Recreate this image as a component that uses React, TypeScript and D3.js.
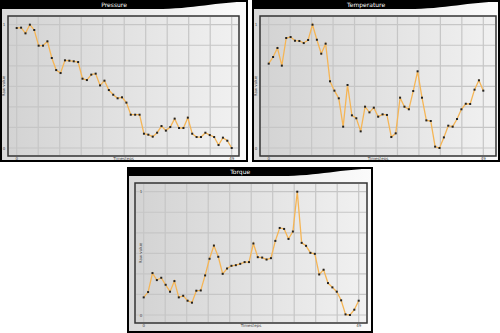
import React from 'react';
import * as d3 from 'd3';

// normalised sensor readings, 50 timesteps each
const pressure = [
  0.973, 0.976, 0.93, 1.0, 0.957, 0.83, 0.83, 0.865, 0.73, 0.632,
  0.608, 0.711, 0.708, 0.703, 0.697, 0.562, 0.551, 0.595, 0.603, 0.508,
  0.546, 0.47, 0.432, 0.403, 0.411, 0.368, 0.27, 0.27, 0.27, 0.116,
  0.108, 0.092, 0.124, 0.178, 0.141, 0.17, 0.238, 0.162, 0.162, 0.246,
  0.116, 0.089, 0.089, 0.124, 0.105, 0.089, 0.024, 0.084, 0.059, 0.0,
];
const temperature = [
  0.684, 0.738, 0.811, 0.668, 0.892, 0.9, 0.87, 0.868, 0.851, 0.876,
  1.0, 0.878, 0.765, 0.846, 0.541, 0.465, 0.403, 0.173, 0.511, 0.265,
  0.241, 0.135, 0.335, 0.289, 0.327, 0.254, 0.273, 0.268, 0.089, 0.119,
  0.408, 0.335, 0.314, 0.462, 0.622, 0.408, 0.224, 0.219, 0.011, 0.0,
  0.086, 0.181, 0.173, 0.235, 0.314, 0.359, 0.357, 0.473, 0.549, 0.465,
];
const torque = [
  0.143, 0.186, 0.34, 0.283, 0.302, 0.245, 0.189, 0.275, 0.143, 0.156,
  0.116, 0.1, 0.197, 0.199, 0.321, 0.456, 0.563, 0.472, 0.334, 0.377,
  0.399, 0.404, 0.415, 0.429, 0.429, 0.58, 0.469, 0.466, 0.45, 0.461,
  0.601, 0.706, 0.698, 0.617, 0.677, 1.0, 0.585, 0.561, 0.504, 0.496,
  0.329, 0.367, 0.259, 0.224, 0.189, 0.119, 0.005, 0.0, 0.043, 0.116,
];
const xTickLabels = ['0', '49'];
const yTickLabels = ['0', '1'];
const xTitle = 'Timesteps';
const yTitle = 'Raw value';

type PanelProps = {
  id: string;
  title: string;
  values: number[];
  x: number;
  y: number;
  w: number;
  h: number;
  innerW: number;
  padR: number;
  labelInside?: boolean;
};

const Panel = ({ id, title, values, x, y, w, h, innerW, padR, labelInside }: PanelProps) => {
  const ix = 8;
  const iy = 16;
  const ih = 140;
  const n = values.length;

  const xScale = d3.scaleLinear().domain([0, n - 1]).range([ix + 8.7, ix + innerW - padR]);
  const yScale = d3.scaleLinear().domain([0, 1]).range([iy + ih - 8, iy + 8.7]);

  const line = d3
    .line<number>()
    .x((_, i) => xScale(i))
    .y(d => yScale(d));

  const vGrid = d3.range(11).map(i => (i * (n - 1)) / 10);
  const hGrid = d3.range(7).map(i => i / 6);

  const header = `M0,0 L${w},0 L${w},1.5 C${w - 30},2 ${w - 55},9 ${w - 92},9 L0,9 Z`;
  const labelX = labelInside ? ix + 6 : ix - 4;

  return (
    <g transform={`translate(${x},${y})`}>
      <defs>
        <linearGradient id={`${id}-outer`} x1="0" x2="1" y1="0" y2="0">
          <stop offset="0%" stopColor="#d9d9d9" />
          <stop offset="100%" stopColor="#fbfbfb" />
        </linearGradient>
        <linearGradient id={`${id}-inner`} x1="0" x2="1" y1="0" y2="0">
          <stop offset="0%" stopColor="#d3d3d3" />
          <stop offset="100%" stopColor="#f1f1f1" />
        </linearGradient>
      </defs>
      <rect x={1} y={1} width={w - 2} height={h - 2} fill={`url(#${id}-outer)`} stroke="#000" strokeWidth={2} />
      <path d={header} fill="#000" />
      <text x={w * 0.46} y={7} fill="#fff" fontSize={6} textAnchor="middle" fontFamily="DejaVu Sans, sans-serif">
        {title}
      </text>
      <rect x={ix} y={iy} width={innerW} height={ih} fill={`url(#${id}-inner)`} stroke="#333" strokeWidth={1.5} />
      {vGrid.map((g, i) => (
        <line key={`v${i}`} x1={xScale(g)} x2={xScale(g)} y1={iy + 1} y2={iy + ih - 1} stroke="#c6c6c6" strokeWidth={1.2} />
      ))}
      {hGrid.map((g, i) => (
        <line key={`h${i}`} x1={ix + 1} x2={ix + innerW - 1} y1={yScale(g)} y2={yScale(g)} stroke="#c6c6c6" strokeWidth={1.2} />
      ))}
      <path d={line(values) || ''} fill="none" stroke="#f5b555" strokeWidth={1.3} />
      {values.map((v, i) => (
        <rect key={i} x={xScale(i) - 1} y={yScale(v) - 1} width={2} height={2} fill="#222" />
      ))}
      {hGrid.filter((_, i) => i === 0 || i === hGrid.length - 1).map((g, i) => (
        <text key={`yt${i}`} x={labelX} y={yScale(g) + 1.5} fontSize={4} fill="#444" textAnchor="middle" fontFamily="DejaVu Sans, sans-serif">
          {yTickLabels[i]}
        </text>
      ))}
      <text
        transform={`translate(${labelX + 0.5},${iy + ih / 2}) rotate(-90)`}
        fontSize={4}
        fill="#444"
        textAnchor="middle"
        fontFamily="DejaVu Sans, sans-serif"
      >
        {yTitle}
      </text>
      {[0, n - 1].map((t, i) => (
        <text key={`xt${i}`} x={xScale(t)} y={iy + ih + 4} fontSize={4} fill="#444" textAnchor="middle" fontFamily="DejaVu Sans, sans-serif">
          {xTickLabels[i]}
        </text>
      ))}
      <text x={ix + innerW / 2} y={iy + ih + 4} fontSize={4} fill="#444" textAnchor="middle" fontFamily="DejaVu Sans, sans-serif">
        {xTitle}
      </text>
    </g>
  );
};

export default function App() {
  return (
    <div style={{ position: 'absolute', left: 0, top: 0 }}>
      <svg width={500} height={333} style={{ display: 'block', background: '#fff' }}>
        <Panel id="p" title="Pressure" values={pressure} x={0} y={0} w={248} h={162} innerW={231} padR={7.3} />
        <Panel id="t" title="Temperature" values={temperature} x={252} y={0} w={248} h={162} innerW={236} padR={12.7} />
        <Panel id="q" title="Torque" values={torque} x={127} y={167} w={246} h={166} innerW={232} padR={8.3} labelInside />
      </svg>
    </div>
  );
}
